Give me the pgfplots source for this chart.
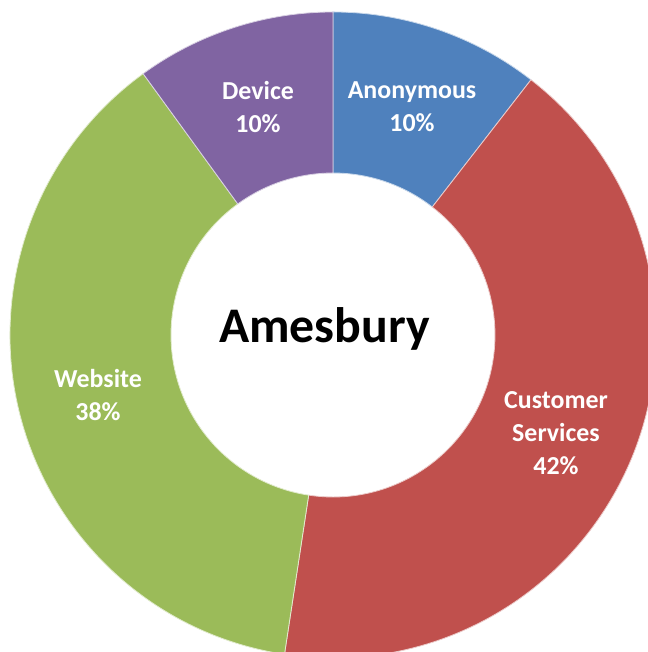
\documentclass[border=0pt]{standalone}
\usepackage{pgfplots}
\pgfplotsset{compat=1.18}
\usepackage{pgfplotstable}
\usepackage{fontspec}
\setmainfont{Carlito}
\definecolor{cAnon}{HTML}{4F81BD}
\definecolor{cCust}{HTML}{C0504D}
\definecolor{cWeb}{HTML}{9BBB59}
\definecolor{cDev}{HTML}{8064A2}
\pgfplotstableread{
name value
Anonymous 10.5
Customer 41.9
Website 37.6
Device 10.0
}\datatable
\pgfplotstablegetelem{0}{value}\of\datatable \let\vA\pgfplotsretval
\pgfplotstablegetelem{1}{value}\of\datatable \let\vB\pgfplotsretval
\pgfplotstablegetelem{2}{value}\of\datatable \let\vC\pgfplotsretval
\pgfplotstablegetelem{3}{value}\of\datatable \let\vD\pgfplotsretval
\def\cx{333}
\def\cy{317}
\def\Ro{323}
\def\Ri{162}
\newcommand{\segment}[3]{%
  \pgfmathsetmacro\aS{90-3.6*(#1)}%
  \pgfmathsetmacro\aE{90-3.6*((#1)+(#2))}%
  \pgfmathsetmacro\xa{\cx+\Ro*cos(\aS)}%
  \pgfmathsetmacro\ya{\cy+\Ro*sin(\aS)}%
  \pgfmathsetmacro\xb{\cx+\Ri*cos(\aE)}%
  \pgfmathsetmacro\yb{\cy+\Ri*sin(\aE)}%
  \edef\temp{\noexpand\fill[#3, draw=white!70!#3, line width=0.8bp] (axis cs:\xa,\ya) arc[start angle=\aS, end angle=\aE, radius=\Ro bp] -- (axis cs:\xb,\yb) arc[start angle=\aE, end angle=\aS, radius=\Ri bp] -- cycle;}%
  \temp}
\begin{document}
\begin{tikzpicture}
\begin{axis}[
  width=648bp, height=652bp, scale only axis,
  xmin=0, xmax=648, ymin=0, ymax=652,
  hide axis, clip=true, clip mode=global,
]
\pgfmathsetmacro\cB{\vA}
\pgfmathsetmacro\cC{\vA+\vB}
\pgfmathsetmacro\cD{\vA+\vB+\vC}
\segment{0}{\vA}{cAnon}
\segment{\cB}{\vB}{cCust}
\segment{\cC}{\vC}{cWeb}
\segment{\cD}{\vD}{cDev}
\node[font=\fontsize{50}{60}\selectfont\bfseries, anchor=base] at (axis cs:324.5,309) {Amesbury};
\node[font=\fontsize{26}{33}\selectfont\bfseries, text=white, align=center] at (axis cs:258,545) {Device\\10\%};
\node[font=\fontsize{26}{33}\selectfont\bfseries, text=white, align=center] at (axis cs:412,545) {Anonymous\\10\%};
\node[font=\fontsize{26}{33}\selectfont\bfseries, text=white, align=center] at (axis cs:556,219) {Customer\\Services\\42\%};
\node[font=\fontsize{26}{33}\selectfont\bfseries, text=white, align=center] at (axis cs:98,257) {Website\\38\%};
\end{axis}
\pgfresetboundingbox
\path (0,0) rectangle (648bp,652bp);
\end{tikzpicture}
\end{document}
